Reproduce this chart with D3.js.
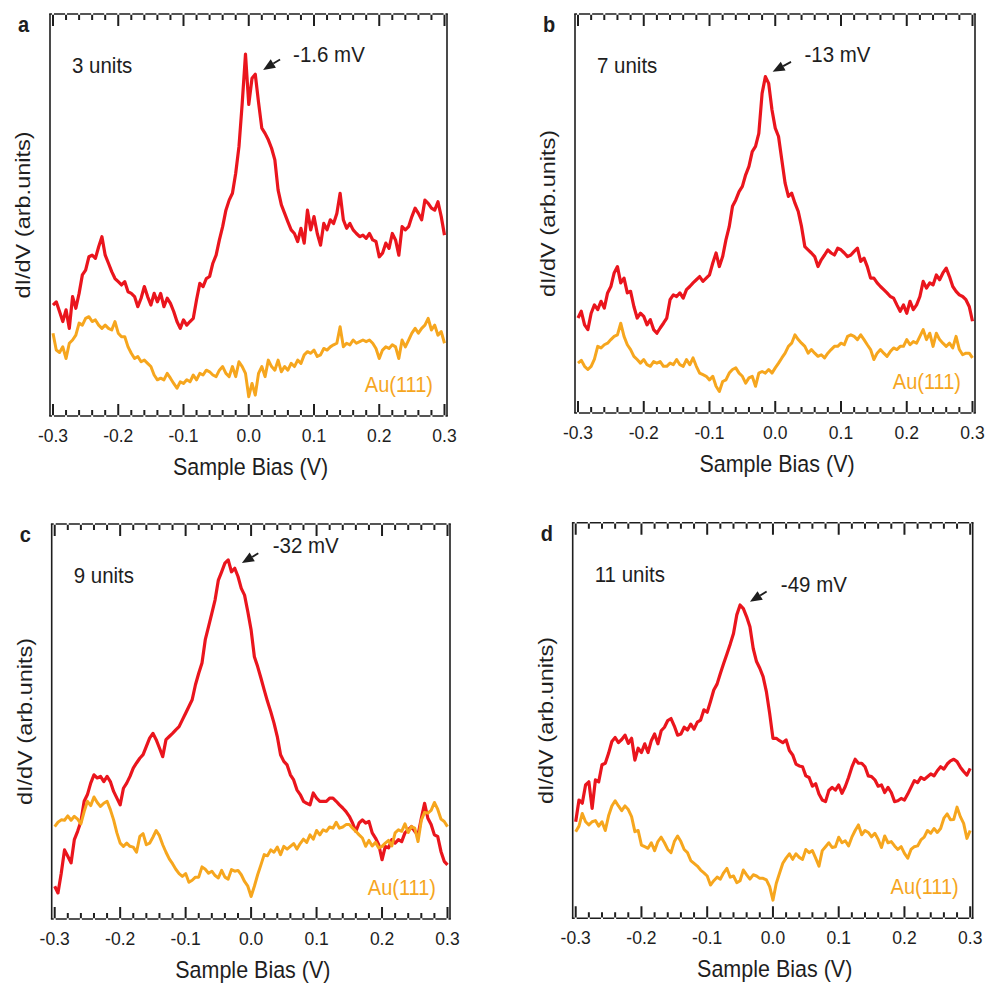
<!DOCTYPE html>
<html>
<head>
<meta charset="utf-8">
<script src="https://cdn.jsdelivr.net/npm/d3@7"></script>
<style>
body { margin: 0; background: #ffffff; }
svg { display: block; }
</style>
</head>
<body>
<svg id="chart" width="985" height="985"></svg>
<script>
// Sample bias grid (V), shared by every spectrum.
var bias = [-0.300,-0.295,-0.290,-0.285,-0.280,-0.275,-0.270,-0.265,-0.260,-0.255,
	-0.250,-0.245,-0.240,-0.235,-0.230,-0.225,-0.220,-0.215,-0.210,-0.205,
	-0.200,-0.195,-0.190,-0.185,-0.180,-0.175,-0.170,-0.165,-0.160,-0.155,
	-0.150,-0.145,-0.140,-0.135,-0.130,-0.125,-0.120,-0.115,-0.110,-0.105,
	-0.100,-0.095,-0.090,-0.085,-0.080,-0.075,-0.070,-0.065,-0.060,-0.055,
	-0.050,-0.045,-0.040,-0.035,-0.030,-0.025,-0.020,-0.015,-0.010,-0.005,
	0.000,0.005,0.010,0.015,0.020,0.025,0.030,0.035,0.040,0.045,
	0.050,0.055,0.060,0.065,0.070,0.075,0.080,0.085,0.090,0.095,
	0.100,0.105,0.110,0.115,0.120,0.125,0.130,0.135,0.140,0.145,
	0.150,0.155,0.160,0.165,0.170,0.175,0.180,0.185,0.190,0.195,
	0.200,0.205,0.210,0.215,0.220,0.225,0.230,0.235,0.240,0.245,
	0.250,0.255,0.260,0.265,0.270,0.275,0.280,0.285,0.290,0.295,0.300];

// dI/dV (arb. units, 0 = bottom of frame, 100 = top of frame)
var red_a = [27.6,28.4,26.0,23.5,26.4,21.8,29.7,26.8,30.5,35.1,
	36.3,39.6,40.0,39.2,42.1,44.6,40.0,38.0,35.9,34.2,
	33.4,32.6,33.4,30.9,30.5,29.7,27.2,29.3,32.2,29.7,
	27.6,30.5,28.4,30.5,27.2,29.3,28.0,26.0,23.5,21.8,
	23.9,22.6,23.5,24.3,28.9,33.0,32.2,34.2,34.7,38.0,
	40.0,43.8,47.1,51.2,53.7,55.4,60.4,67.0,77.8,90.0,
	77.5,84.0,85.0,78.0,71.6,70.3,68.7,66.6,63.7,56.2,
	52.5,50.4,48.3,46.3,45.4,43.4,46.7,43.0,51.2,46.3,
	49.6,45.4,42.5,47.9,46.3,48.8,47.9,50.4,55.4,48.8,
	46.7,47.9,46.3,45.4,44.6,45.0,44.2,45.4,43.8,43.4,
	39.6,40.5,43.0,41.7,45.4,43.8,40.0,47.1,46.3,47.1,
	49.6,51.7,50.4,48.8,53.7,52.9,51.7,51.2,53.3,49.6,45.0];
var au_a = [20.6,16.4,15.8,17.2,14.3,18.1,18.9,20.1,23.1,22.6,
	24.3,24.7,23.5,23.9,22.6,21.8,22.6,21.8,21.4,23.5,
	20.6,19.7,19.7,17.2,15.6,14.3,14.8,13.5,13.9,13.1,
	12.3,10.2,9.0,9.4,9.0,10.6,9.4,8.1,6.9,8.5,
	8.1,9.0,8.5,10.2,9.0,10.6,10.2,11.4,11.0,10.2,
	9.8,11.4,12.3,10.6,9.8,12.3,9.8,13.5,12.3,10.6,
	4.8,8.1,5.2,10.6,12.3,9.8,13.9,12.3,11.4,13.9,
	11.0,12.3,11.4,13.1,12.3,13.9,13.1,15.2,16.0,15.6,
	16.4,14.8,15.2,16.8,16.4,17.2,17.7,18.1,22.2,17.2,
	18.1,17.7,18.9,18.1,18.5,18.9,18.5,18.9,18.1,16.8,
	14.3,16.4,17.2,16.8,17.7,17.2,14.3,18.9,17.2,18.9,
	20.6,21.8,20.6,21.8,22.6,24.3,21.4,22.6,20.1,21.0,18.1];

var red_b = [23.8,25.5,22.1,20.9,25.0,27.1,25.9,28.0,26.3,30.1,
	31.7,35.1,36.7,32.6,33.8,30.1,30.5,26.7,23.8,25.0,
	24.2,22.1,23.4,20.9,20.0,21.3,22.5,23.8,28.4,29.6,
	29.2,30.1,28.8,30.9,31.7,32.6,33.4,34.2,33.0,33.8,
	34.6,37.6,40.1,36.7,39.2,43.4,46.7,51.8,53.4,55.5,
	56.8,59.7,61.8,65.5,66.8,70.1,80.1,84.3,82.6,76.0,
	71.4,69.3,63.4,57.6,54.3,55.1,52.6,50.5,46.7,41.7,
	40.9,40.1,39.2,36.7,38.4,39.6,40.9,40.1,39.6,41.3,
	40.9,40.1,39.2,39.6,40.5,41.3,38.0,38.8,36.7,33.8,
	33.8,32.6,31.7,30.9,30.1,29.2,28.8,27.1,25.5,27.1,
	25.0,28.0,25.9,27.1,29.2,33.0,31.3,32.6,32.1,34.6,
	33.4,35.1,36.3,34.2,31.7,30.5,29.6,29.2,28.4,26.7,23.0];
var au_b = [12.5,13.2,11.7,10.9,11.7,13.5,16.7,16.3,17.1,17.5,
	18.4,19.2,19.6,22.5,19.2,17.1,15.9,14.2,13.4,12.5,
	13.4,12.1,11.7,12.9,12.5,12.9,11.7,11.7,12.5,12.1,
	13.4,12.1,11.7,13.4,12.1,13.8,11.7,10.0,9.6,9.2,
	8.3,9.2,6.7,5.4,7.9,8.3,10.0,10.9,11.3,10.0,
	9.2,7.5,8.8,9.2,6.7,10.0,10.4,10.0,10.9,10.0,
	11.3,12.5,13.8,15.0,16.7,17.5,19.6,18.4,17.5,16.7,
	15.0,15.9,15.0,14.2,14.6,13.8,15.0,15.9,16.7,16.7,
	17.5,17.1,19.2,19.6,19.2,18.4,19.6,18.4,17.1,15.9,
	13.4,15.0,15.9,15.0,14.2,15.4,16.3,15.9,16.7,16.7,
	18.4,17.1,17.9,17.5,19.2,20.9,18.4,20.0,16.7,20.0,
	18.4,17.5,16.7,17.5,16.3,19.2,15.9,14.6,15.0,15.0,13.8];

var red_c = [8.3,6.6,11.6,17.5,15.9,14.2,20.1,22.2,24.7,29.8,
	31.5,34.4,36.5,35.7,36.1,34.8,36.1,34.8,32.3,30.6,
	28.9,33.1,34.4,36.1,38.2,39.5,40.7,41.6,43.7,45.8,
	47.0,45.4,43.3,41.1,45.4,46.2,47.0,47.9,48.7,50.4,
	52.1,53.8,55.5,59.3,62.2,64.8,70.7,74.0,77.4,80.8,
	85.8,87.9,90.1,90.9,87.9,88.8,86.7,83.7,82.0,77.8,
	73.2,66.4,63.9,61.0,58.0,55.1,52.5,49.6,46.2,41.6,
	39.9,39.0,36.5,35.2,32.7,31.5,29.8,29.3,28.9,31.9,
	30.6,29.8,29.8,29.8,30.6,30.6,29.8,28.9,28.1,27.2,
	26.0,24.3,22.2,24.3,25.1,24.3,24.7,21.8,20.5,18.8,
	15.0,18.4,18.0,20.1,19.2,20.1,19.6,21.8,22.6,23.4,
	22.2,21.3,25.5,29.3,25.5,23.9,21.3,20.9,17.1,14.6,13.7];
var au_c = [23.4,24.5,25.1,25.0,26.1,25.0,26.0,25.3,24.1,27.2,
	29.8,28.7,30.9,29.5,28.5,29.3,29.8,27.7,25.1,21.8,
	19.2,18.4,19.2,18.4,18.2,16.9,20.9,21.6,18.8,19.2,
	20.7,22.4,21.1,18.8,16.9,15.2,14.0,12.6,11.5,10.8,
	11.5,9.3,9.8,10.6,10.6,13.2,12.6,11.6,12.1,11.0,
	10.4,12.3,10.6,10.1,12.5,12.1,12.3,11.2,9.5,8.3,
	5.7,8.3,11.2,13.7,16.3,16.0,17.5,16.9,18.2,16.3,
	18.4,17.7,18.4,19.1,17.7,19.1,20.2,19.4,21.3,20.2,
	22.4,21.3,22.6,22.2,23.3,23.0,24.5,23.0,23.3,23.9,
	23.9,23.0,22.2,21.3,20.5,18.4,19.9,18.5,19.4,18.0,
	18.4,19.2,19.9,18.5,21.8,22.6,22.2,24.1,21.9,23.4,
	23.0,19.6,25.0,27.0,26.8,27.5,29.5,27.8,25.3,24.7,23.4];

var red_d = [24.4,29.9,29.1,33.7,34.5,27.8,35.0,34.5,38.8,39.2,
	41.7,44.7,45.7,44.4,45.2,46.3,44.2,45.5,40.0,43.0,
	41.9,44.1,41.9,44.9,46.6,44.1,47.4,48.3,50.0,50.5,
	48.6,46.3,46.6,48.3,47.6,49.1,47.8,49.6,50.1,52.7,
	52.1,54.8,57.7,59.2,61.9,64.4,66.8,69.3,72.0,76.7,
	79.2,78.3,76.2,73.7,68.2,64.9,63.2,61.1,57.3,51.8,
	45.5,45.5,44.9,44.4,45.1,42.4,41.3,39.0,38.5,38.3,
	36.0,35.6,33.4,34.0,31.4,29.9,29.5,32.3,33.1,32.4,
	33.7,31.6,33.3,35.6,38.2,40.2,39.2,39.2,38.3,36.0,
	35.8,35.0,33.4,33.7,31.8,33.1,31.8,29.5,29.7,30.3,
	29.9,31.4,33.1,34.8,34.3,35.6,35.1,35.8,36.5,36.0,
	37.3,38.3,37.7,39.0,39.8,40.2,39.6,38.2,37.1,36.2,37.9];
var au_d = [21.9,23.3,26.5,24.4,23.6,24.4,24.7,23.3,24.4,22.2,
	25.9,28.4,29.7,28.4,27.2,28.4,27.5,25.7,21.9,22.2,
	18.5,18.1,17.7,19.1,17.1,19.4,20.5,19.1,17.4,16.6,
	19.4,20.8,19.4,17.4,16.6,14.6,13.9,13.2,12.2,11.5,
	10.7,8.4,9.5,10.4,9.9,11.5,12.6,10.4,10.7,9.0,
	9.5,12.2,11.0,9.9,11.0,10.7,10.1,10.1,9.7,8.0,
	4.6,8.8,11.4,13.9,15.2,16.3,14.9,16.3,15.4,14.9,
	17.4,16.6,17.1,15.2,13.2,17.1,18.1,19.1,17.9,18.1,
	20.5,19.1,19.6,18.3,20.5,22.2,23.6,21.1,22.2,21.7,
	20.6,21.5,20.0,17.9,20.8,19.1,19.4,18.3,17.4,18.1,
	16.4,15.2,17.4,18.1,18.3,19.8,20.5,22.2,21.5,22.7,
	21.7,22.7,25.3,26.4,24.9,25.0,28.1,25.7,24.0,20.2,22.2];

var panel_letters = ["a", "b", "c", "d"];
var unit_labels = ["3 units", "7 units", "9 units", "11 units"];
var peak_labels = ["-1.6 mV", "-13 mV", "-32 mV", "-49 mV"];
// Peak arrows in data units: [text bias, text level, tail bias, tail level, tip bias, tip level]
var peak_marks = [
	[0.068, 88.1, 0.048, 88.7, 0.022, 86.1],
	[0.0445, 88.0, 0.024, 88.0, -0.004, 85.5],
	[0.033, 92.7, 0.011, 92.6, -0.014, 90.1],
	[0.012, 82.6, -0.0096, 82.6, -0.035, 80.0]
];
var major_ticks = [-0.3, -0.2, -0.1, 0.0, 0.1, 0.2, 0.3];
var tick_labels = ["-0.3", "-0.2", "-0.1", "0.0", "0.1", "0.2", "0.3"];
var minor_ticks = [-0.28, -0.26, -0.24, -0.22, -0.18, -0.16, -0.14, -0.12,
	-0.08, -0.06, -0.04, -0.02, 0.02, 0.04, 0.06, 0.08,
	0.12, 0.14, 0.16, 0.18, 0.22, 0.24, 0.26, 0.28];
var red_series = [red_a, red_b, red_c, red_d];
var au_series = [au_a, au_b, au_c, au_d];

// Frames of the four panels, in page pixels.
var frames = [
	{left: 50, right: 447, top: 14, bottom: 416},
	{left: 575, right: 975, top: 14, bottom: 413},
	{left: 51.7, right: 450, top: 524, bottom: 919},
	{left: 572.7, right: 972.7, top: 522.7, bottom: 918.3}
];

var FONT = "'Liberation Sans', Arial, Helvetica, sans-serif";
var STRETCH = 1.12; // the source figure is a little taller than wide
var RED = "#ea151d";
var ORANGE = "#f6a61e";
var INK = "#1e1e1e";
var MAJOR_LEN = 12, MINOR_LEN = 6, TICK_W = 2;

var svg = d3.select("#chart");
svg.append("rect").attr("width", 985).attr("height", 985).attr("fill", "#ffffff");

function add_text(g, x, y, str, size, anchor, fill, weight, rotate)
{
	var t = "translate(" + x + "," + y + ") scale(1," + STRETCH + ")";
	if (rotate) { t += " rotate(" + rotate + ")"; }
	return g.append("text")
		.attr("transform", t)
		.attr("text-anchor", anchor)
		.attr("font-family", FONT)
		.attr("font-size", size)
		.attr("font-weight", weight || "normal")
		.attr("fill", fill)
		.text(str);
}

// Arrow: shaft plus a filled head.
function draw_arrow(g, x0, y0, x1, y1)
{
	var ang = Math.atan2(y1 - y0, x1 - x0);
	var len = 12, half = 5;
	var bx = x1 - len * Math.cos(ang), by = y1 - len * Math.sin(ang);
	g.append("path")
		.attr("d", "M" + x0 + "," + y0 + "L" + bx + "," + by)
		.attr("fill", "none").attr("stroke", INK).attr("stroke-width", 1.8);
	g.append("path")
		.attr("d", "M" + x1 + "," + y1 +
			"L" + (bx + half * Math.sin(ang)) + "," + (by - half * Math.cos(ang)) +
			"L" + (bx - half * Math.sin(ang)) + "," + (by + half * Math.cos(ang)) + "Z")
		.attr("fill", INK);
}

// One comb-shaped polygon per edge: the frame edge plus inward ticks.
// dir = -1 makes the teeth point up (bottom edge), +1 down (top edge).
function draw_comb(layer, x, x0, x1, y0, dir)
{
	var teeth = major_ticks.map(function(v) { return {v: v, len: MAJOR_LEN}; })
		.concat(minor_ticks.map(function(v) { return {v: v, len: MINOR_LEN}; }))
		.sort(function(a, b) { return a.v - b.v; });
	var h = TICK_W / 2;
	var d = "M" + x0 + "," + (y0 - dir * 0.8);
	teeth.forEach(function(t) {
		var cx = x(t.v);
		d += "L" + (cx - h) + "," + (y0 - dir * 0.8) +
			"L" + (cx - h) + "," + (y0 + dir * t.len) +
			"L" + (cx + h) + "," + (y0 + dir * t.len) +
			"L" + (cx + h) + "," + (y0 - dir * 0.8);
	});
	d += "L" + x1 + "," + (y0 - dir * 0.8) + "L" + x1 + "," + (y0 + dir * 0.8) +
		"L" + x0 + "," + (y0 + dir * 0.8) + "Z";
	layer.append("path").attr("d", d).attr("fill", INK);
}

frames.forEach(function(f, p)
{
	var g = svg.append("g");

	var x = d3.scaleLinear().domain([-0.3, 0.3]).range([f.left + 3, f.right - 2.5]);
	var y = d3.scaleLinear().domain([0, 100]).range([f.bottom, f.top]);

	var line = d3.line()
		.x(function(d, i) { return x(bias[i]); })
		.y(function(d) { return y(d); });

	g.append("path").datum(red_series[p])
		.attr("d", line).attr("fill", "none")
		.attr("stroke", RED).attr("stroke-width", 3.2).attr("stroke-linejoin", "round");
	g.append("path").datum(au_series[p])
		.attr("d", line).attr("fill", "none")
		.attr("stroke", ORANGE).attr("stroke-width", 3).attr("stroke-linejoin", "round");

	// Left and right frame edges.
	g.append("path")
		.attr("d", "M" + f.left + "," + f.top + "L" + f.left + "," + f.bottom +
			"M" + f.right + "," + f.top + "L" + f.right + "," + f.bottom)
		.attr("fill", "none").attr("stroke", INK).attr("stroke-width", 1.6);

	// Top and bottom edges with their ticks.
	draw_comb(g, x, f.left - 0.8, f.right + 0.8, f.bottom, -1);
	draw_comb(g, x, f.left - 0.8, f.right + 0.8, f.top, 1);

	g.append("g").selectAll("text")
		.data(major_ticks)
		.join("text")
		.attr("transform", function(d) { return "translate(" + x(d) + "," + (f.bottom + 26) + ")"; })
		.attr("text-anchor", "middle")
		.attr("font-family", FONT)
		.attr("font-size", 17.5)
		.attr("fill", INK)
		.text(function(d, i) { return tick_labels[i]; });

	// Labels.
	add_text(g, f.left - 32, f.top + 18, panel_letters[p], 20, "start", INK, "bold");
	add_text(g, f.left + 22, f.top + 59, unit_labels[p], 20.5, "start", INK);
	add_text(g, f.right - 14, f.bottom - 24, "Au(111)", 20, "end", ORANGE);
	add_text(g, (f.left + f.right) / 2 + 2, f.bottom + 59, "Sample Bias (V)", 21.5, "middle", INK);
	add_text(g, f.left - 20, (f.top + f.bottom) / 2, "dI/dV (arb.units)", 21, "middle", INK, "normal", -90);

	var m = peak_marks[p];
	add_text(g, x(m[0]), y(m[1]), peak_labels[p], 20.5, "start", INK);
	draw_arrow(g, x(m[2]), y(m[3]), x(m[4]), y(m[5]));
});
</script>
</body>
</html>
